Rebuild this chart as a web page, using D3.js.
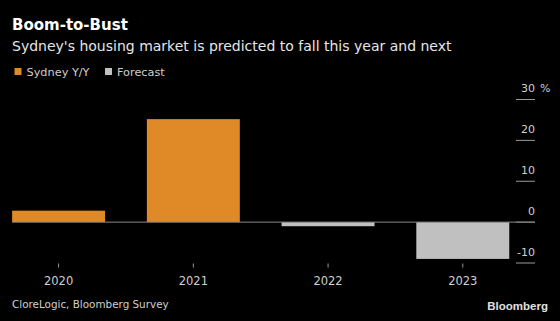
<!DOCTYPE html>
<html>
<head>
<meta charset="utf-8">
<script src="https://cdn.jsdelivr.net/npm/d3@7"></script>
<style>
  html, body { margin: 0; padding: 0; background: #000; }
  svg { display: block; font-family: "DejaVu Sans", sans-serif; }
</style>
</head>
<body>
<svg id="chart" width="560" height="321"></svg>
<script>
// Year-over-year change in Sydney home prices (%), actual and forecast
const years = ["2020", "2021", "2022", "2023"];
const values = [2.8, 25.2, -1.0, -9.0];
const kinds = ["actual", "actual", "forecast", "forecast"];
const yTicks = [-10, 0, 10, 20, 30];
const legendLabels = ["Sydney Y/Y", "Forecast"];

const colors = { actual: "#df8a26", forecast: "#c0c0c0" };

const svg = d3.select("#chart");
svg.append("rect").attr("width", 560).attr("height", 321).attr("fill", "#000");

const x = d3.scaleBand()
  .domain(years)
  .range([0, 521.4])
  .paddingInner(0.31)
  .paddingOuter(0.09);

const y = d3.scaleLinear()
  .domain([-10, 30])
  .range([263, 99.5]);

// Titles
svg.append("text")
  .attr("x", 12).attr("y", 30)
  .attr("fill", "#fff")
  .attr("font-size", 15).attr("font-weight", "bold")
  .text("Boom-to-Bust");

svg.append("text")
  .attr("x", 12).attr("y", 50.5)
  .attr("fill", "#e6e6e6")
  .attr("font-size", 14)
  .text("Sydney's housing market is predicted to fall this year and next");

// Legend
const legend = svg.append("g");
const legendX = [14.5, 105];
legendLabels.forEach((label, i) => {
  legend.append("rect")
    .attr("x", legendX[i]).attr("y", 68)
    .attr("width", 7).attr("height", 7)
    .attr("fill", i === 0 ? colors.actual : colors.forecast);
  legend.append("text")
    .attr("x", legendX[i] + 12).attr("y", 76)
    .attr("fill", "#cfcfcf")
    .attr("font-size", 11.3)
    .text(label);
});

// Right-hand value axis: short rules with labels above them
const yAxis = svg.append("g");
yTicks.forEach(t => {
  yAxis.append("line")
    .attr("x1", 516).attr("x2", 535)
    .attr("y1", y(t)).attr("y2", y(t))
    .attr("stroke", t === 0 ? "#8a8a8a" : "#9a9a9a")
    .attr("stroke-width", 1);
  yAxis.append("text")
    .attr("x", 535).attr("y", y(t) - 7.5)
    .attr("text-anchor", "end")
    .attr("fill", "#cfcfcf")
    .attr("font-size", 11)
    .text(t);
});
yAxis.append("text")
  .attr("x", 540).attr("y", y(30) - 7.5)
  .attr("fill", "#cfcfcf")
  .attr("font-size", 11)
  .text("%");

// Bars
svg.append("g")
  .selectAll("rect")
  .data(years.map((yr, i) => ({ yr, v: values[i], kind: kinds[i] })))
  .join("rect")
  .attr("x", d => x(d.yr))
  .attr("width", x.bandwidth())
  .attr("y", d => y(Math.max(0, d.v)))
  .attr("height", d => Math.abs(y(d.v) - y(0)))
  .attr("fill", d => colors[d.kind]);

// Zero baseline
svg.append("line")
  .attr("x1", x(years[0])).attr("x2", 535)
  .attr("y1", y(0)).attr("y2", y(0))
  .attr("stroke", "#8a8a8a").attr("stroke-width", 1);

// Category axis
const xAxis = svg.append("g");
years.forEach(yr => {
  const cx = x(yr) + x.bandwidth() / 2;
  xAxis.append("line")
    .attr("x1", cx).attr("x2", cx)
    .attr("y1", 263.5).attr("y2", 267.5)
    .attr("stroke", "#9a9a9a");
  xAxis.append("text")
    .attr("x", cx).attr("y", 285)
    .attr("text-anchor", "middle")
    .attr("fill", "#cfcfcf")
    .attr("font-size", 11.5)
    .text(yr);
});

// Footer
svg.append("text")
  .attr("x", 12).attr("y", 308)
  .attr("fill", "#cfcfcf")
  .attr("font-size", 10.4)
  .text("CloreLogic, Bloomberg Survey");

svg.append("text")
  .attr("x", 548).attr("y", 310)
  .attr("text-anchor", "end")
  .attr("fill", "#e0e0e0")
  .attr("font-size", 11.5).attr("font-weight", "bold")
  .attr("font-family", "Liberation Sans, Arial, sans-serif")
  .text("Bloomberg");
</script>
</body>
</html>
